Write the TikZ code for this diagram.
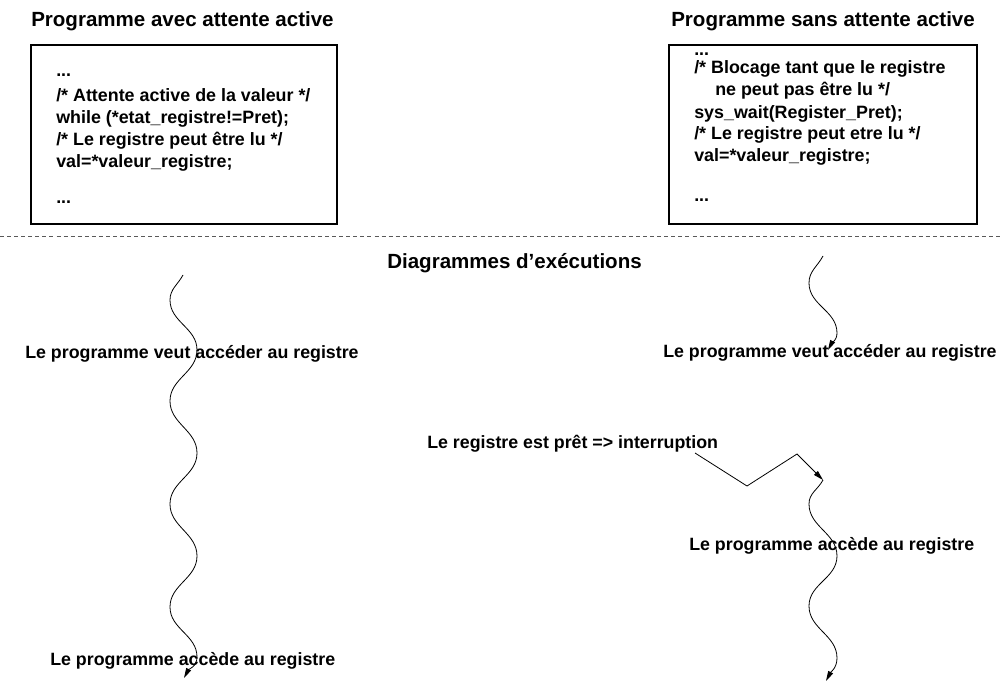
\documentclass[tikz,border=0pt]{standalone}
\usepackage{fontspec}
\setmainfont{Liberation Sans}
\usetikzlibrary{arrows.meta}
\tikzset{
  titletext/.style={anchor=base west,inner sep=0pt,font=\fontsize{15.4}{18}\selectfont\bfseries},
  codetext/.style={anchor=base west,inner sep=0pt,font=\fontsize{13.4}{16}\selectfont\bfseries},
  labeltext/.style={anchor=base west,inner sep=0pt,font=\fontsize{13.35}{16}\selectfont\bfseries},
  codebox/.style={draw,line width=0.9pt},
  sepline/.style={draw=black!65,line width=0.75pt,dash pattern=on 3pt off 2.3pt},
  flow/.style={draw,line width=0.6pt,-{Triangle[length=7.5pt,width=4pt]}}
}
\begin{document}
\begin{tikzpicture}[x=0.75pt,y=-0.75pt]
\useasboundingbox (0,0) rectangle (1000,688);

% titles
\node[titletext] (tleft) at (31,26.5) {Programme avec attente active};
\node[titletext] (tright) at (671,26.5) {Programme sans attente active};
\node[titletext] (tdiag) at (387,268) {Diagrammes d’exécutions};

% code boxes
\path[codebox] (31,45) rectangle (337,224);
\path[codebox] (669,45) rectangle (977,224);

% left code
\node[codetext] (l1) at (56,77) {...};
\node[codetext] (l2) at (56,102) {/* Attente active de la valeur */};
\node[codetext] (l3) at (56,124) {while (*etat\_registre!=Pret);};
\node[codetext] (l4) at (56,145.7) {/* Le registre peut être lu */};
\node[codetext] (l5) at (56,167.3) {val=*valeur\_registre;};
\node[codetext] (l6) at (56,204) {...};

% right code
\node[codetext] (r1) at (694,56) {...};
\node[codetext] (r2) at (694,74) {/* Blocage tant que le registre};
\node[codetext] (r3) at (715,96) {ne peut pas être lu */};
\node[codetext] (r4) at (694,118.3) {sys\_wait(Register\_Pret);};
\node[codetext] (r5) at (694,140) {/* Le registre peut etre lu */};
\node[codetext] (r6) at (694,161.7) {val=*valeur\_registre;};
\node[codetext] (r7) at (694,202) {...};

% separator
\coordinate (sepa) at (0,236.5);
\coordinate (sepb) at (1000,236.5);
\path[sepline] (sepa) -- (sepb);

% left execution wave
\coordinate (la0) at (183,275);
\coordinate (la1) at (170,300);
\coordinate (la2) at (197,350);
\coordinate (la3) at (170,401);
\coordinate (la4) at (197,453);
\coordinate (la5) at (170,504);
\coordinate (la6) at (197,556);
\coordinate (la7) at (170,607);
\coordinate (la8) at (197,657);
\coordinate (la9) at (184,678);
\path[flow] (la0) to[out=-118,in=90] (la1) to[out=-90,in=90] (la2) to[out=-90,in=90] (la3)
  to[out=-90,in=90] (la4) to[out=-90,in=90] (la5) to[out=-90,in=90] (la6)
  to[out=-90,in=90] (la7) to[out=-90,in=90] (la8) to[out=-90,in=62] (la9);

% right execution wave (top)
\coordinate (ra0) at (823,256);
\coordinate (ra1) at (809,283);
\coordinate (ra2) at (837,333);
\coordinate (ra3) at (828,350);
\path[flow] (ra0) to[out=-118,in=90] (ra1) to[out=-90,in=90] (ra2) to[out=-90,in=62] (ra3);

% interruption
\coordinate (ia) at (695,453);
\coordinate (ib) at (747,486);
\coordinate (ic) at (797,454);
\coordinate (id) at (823,480);
\path[flow] (ia) -- (ib) -- (ic) -- (id);

% right execution wave (bottom)
\coordinate (rb1) at (809,504);
\coordinate (rb2) at (837,556);
\coordinate (rb3) at (809,606);
\coordinate (rb4) at (837,658);
\coordinate (rb5) at (826,681);
\path[flow] (id) to[out=-118,in=90] (rb1) to[out=-90,in=90] (rb2) to[out=-90,in=90] (rb3)
  to[out=-90,in=90] (rb4) to[out=-90,in=62] (rb5);

% labels
\node[labeltext] (lv) at (25,358.3) {Le programme veut accéder au registre};
\node[labeltext] (la) at (50,665) {Le programme accède au registre};
\node[labeltext] (rv) at (663,357) {Le programme veut accéder au registre};
\node[labeltext] (ri) at (427,448) {Le registre est prêt => interruption};
\node[labeltext] (ra) at (689,550) {Le programme accède au registre};
\end{tikzpicture}
\end{document}
